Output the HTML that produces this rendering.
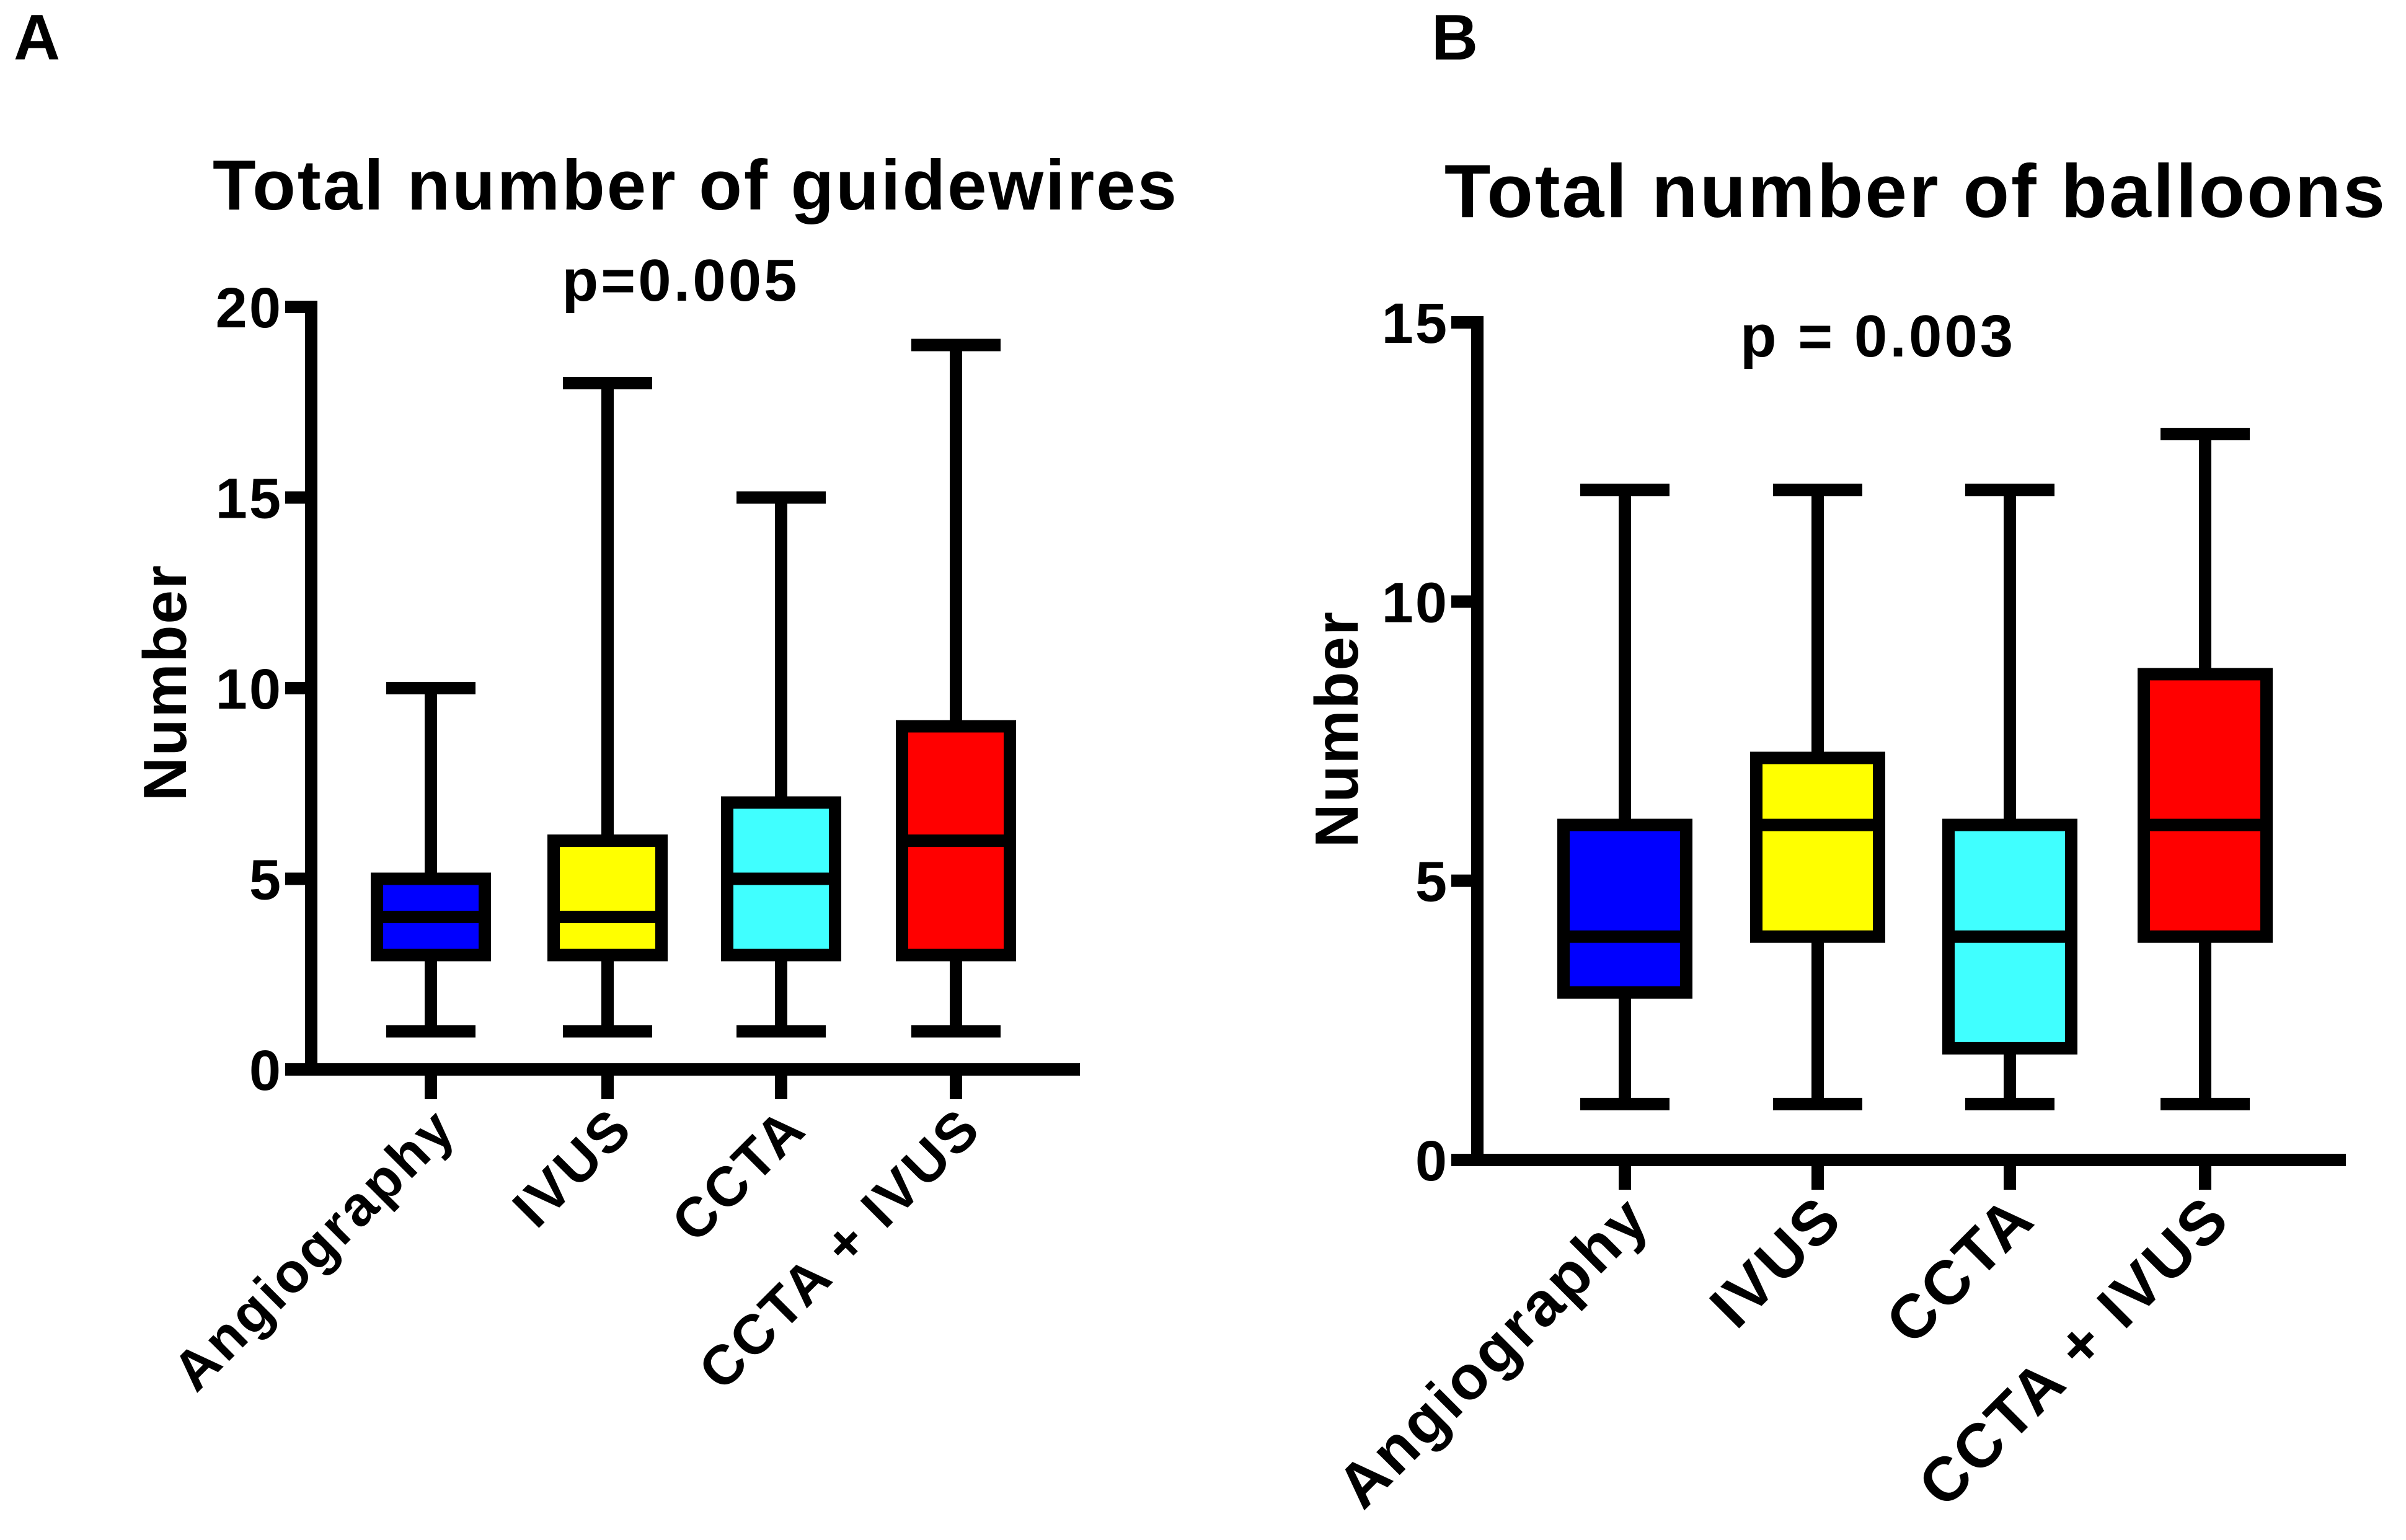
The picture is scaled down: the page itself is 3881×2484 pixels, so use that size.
<!DOCTYPE html>
<html><head><meta charset="utf-8"><style>
html,body{margin:0;padding:0;background:#fff;}
svg{display:block;font-family:"Liberation Sans",Arial,sans-serif;font-weight:bold;}
</style></head><body>
<svg id="fig" width="3881" height="2484" viewBox="0 0 3881 2484"></svg>
<script>
const categories = ["Angiography","IVUS","CCTA","CCTA + IVUS"];
const colors = ["#0000ff","#ffff00","#40ffff","#ff0000"];
// panel A: guidewires [min, q1, median, q3, max]
const gwMin = [1,1,1,1];
const gwQ1 = [3,3,3,3];
const gwMed = [4,4,5,6];
const gwQ3 = [5,6,7,9];
const gwMax = [10,18,15,19];
const gwTicks = [0,5,10,15,20];
// panel B: balloons
const blMin = [1,1,1,1];
const blQ1 = [3,4,2,4];
const blMed = [4,6,4,6];
const blQ3 = [6,7.2,6,8.7];
const blMax = [12,12,12,13];
const blTicks = [0,5,10,15];

const NS = "http://www.w3.org/2000/svg";
const svg = document.getElementById('fig');
function mk(tag, attrs, parent){
  const e = document.createElementNS(NS, tag);
  for (const k in attrs) e.setAttribute(k, attrs[k]);
  (parent||svg).appendChild(e);
  return e;
}
function panel(p){
  const g = mk('g', {});
  
  
  const y = v => p.y0 - (v - p.yMin) * (p.y0 - p.yTop) / (p.yMax - p.yMin);
  const x = i => p.cats[i];
  const sw = 20;
  const L = mk('text', {x:p.letterX, y:96, 'font-size':104, fill:'#000', 'letter-spacing':2}, g);
  L.textContent = p.letter;
  
  
  const T = mk('text', {x:p.titleX, y:p.titleY, 'font-size':p.titleSize, 'text-anchor':'middle', fill:'#000', 'letter-spacing':3}, g);
  T.textContent = p.title;
  
  
  const P = mk('text', {x:p.pX, y:p.pY, 'font-size':96, 'text-anchor':'middle', fill:'#000', 'letter-spacing':4}, g);
  P.textContent = p.pText;
  
  
  const ya = mk('line', {x1:p.ax, y1:y(p.yMax)-10, x2:p.ax, y2:p.y0+10, stroke:'#000', 'stroke-width':sw}, g);
  
  
  const xa = mk('line', {x1:p.ax-10, y1:p.y0, x2:p.axEnd, y2:p.y0, stroke:'#000', 'stroke-width':sw}, g);
  
  
  p.ticks.forEach(t => {
    const tl = mk('line', {x1:p.ax-42, y1:y(t), x2:p.ax, y2:y(t), stroke:'#000', 'stroke-width':sw}, g);
    
    
    const tx = mk('text', {x:p.ax-46, y:y(t)+33, 'font-size':92, 'text-anchor':'end', fill:'#000', 'letter-spacing':3}, g);
    tx.textContent = t;
    
    
  });
  const yt = mk('text', {x:0, y:0, 'font-size':98, 'text-anchor':'middle', fill:'#000', 'letter-spacing':2, transform:`translate(${p.ytX},${p.ytY}) rotate(-90)`}, g);
  yt.textContent = 'Number';
  
  
  categories.forEach((c, i) => {
    const cx = x(i);
    const tk = mk('line', {x1:cx, y1:p.y0, x2:cx, y2:p.y0+48, stroke:'#000', 'stroke-width':sw}, g);
    
    
    const lb = mk('text', {x:0, y:0, 'font-size':p.catSize, 'text-anchor':'end', fill:'#000', 'letter-spacing':4, transform:`translate(${cx+45},${p.y0+100}) rotate(-45)`}, g);
    lb.textContent = c;
    
    
    const bg = mk('g', {}, g);
    
    
    const d = p.data;
    mk('line', {x1:cx, y1:y(d.max[i]), x2:cx, y2:y(d.q3[i]), stroke:'#000', 'stroke-width':sw}, bg);
    mk('line', {x1:cx, y1:y(d.q1[i]), x2:cx, y2:y(d.min[i]), stroke:'#000', 'stroke-width':sw}, bg);
    mk('line', {x1:cx-p.cap, y1:y(d.max[i]), x2:cx+p.cap, y2:y(d.max[i]), stroke:'#000', 'stroke-width':sw}, bg);
    mk('line', {x1:cx-p.cap, y1:y(d.min[i]), x2:cx+p.cap, y2:y(d.min[i]), stroke:'#000', 'stroke-width':sw}, bg);
    mk('rect', {x:cx-p.bw, y:y(d.q3[i]), width:2*p.bw, height:y(d.q1[i])-y(d.q3[i]), fill:colors[i], stroke:'#000', 'stroke-width':sw}, bg);
    mk('line', {x1:cx-p.bw, y1:y(d.med[i]), x2:cx+p.bw, y2:y(d.med[i]), stroke:'#000', 'stroke-width':sw}, bg);
  });
}
panel({name:'panel-a-guidewires', letter:'A', letterX:22, title:'Total number of guidewires', titleX:1122, titleY:338, titleSize:114,
  pText:'p=0.005', pX:1098, pY:485, ax:502, axEnd:1742, y0:1725, yTop:495, yMin:0, yMax:20, ticks:gwTicks,
  cats:[695,980,1260,1542], bw:87, cap:72, ytX:300, ytY:1101, catSize:90,
  data:{min:gwMin,q1:gwQ1,med:gwMed,q3:gwQ3,max:gwMax}});
panel({name:'panel-b-balloons', letter:'B', letterX:2309, title:'Total number of balloons', titleX:3090, titleY:350, titleSize:122,
  pText:'p = 0.003', pX:3029, pY:575, ax:2383, axEnd:3784, y0:1871, yTop:520, yMin:0, yMax:15, ticks:blTicks,
  cats:[2621,2932,3242,3557], bw:99, cap:72, ytX:2190, ytY:1176, catSize:100,
  data:{min:blMin,q1:blQ1,med:blMed,q3:blQ3,max:blMax}});
</script>
</body></html>
